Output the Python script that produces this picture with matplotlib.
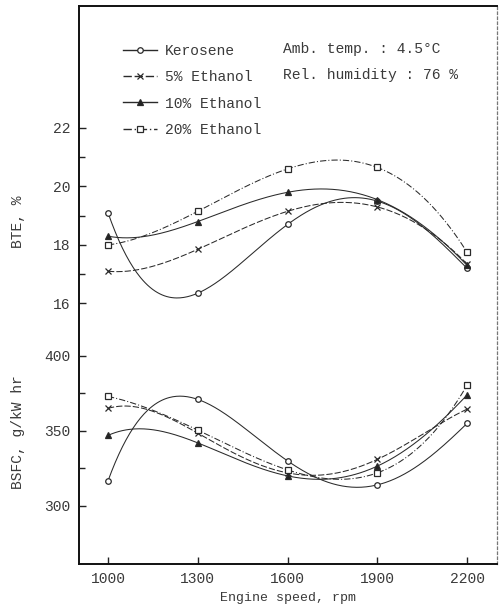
import numpy as np
import matplotlib.pyplot as plt
from matplotlib.lines import Line2D

plt.rcParams.update({
    'font.family': ['Liberation Mono', 'DejaVu Sans Mono'],
    'font.size': 10.5,
    'text.color': '#3a3a3a',
    'axes.labelcolor': '#3a3a3a',
    'xtick.color': '#222222',
    'ytick.color': '#222222',
    'xtick.labelcolor': '#3a3a3a',
    'ytick.labelcolor': '#3a3a3a',
})

speed = [1000, 1300, 1600, 1900, 2200]
fuels = ['Kerosene', '5% Ethanol', '10% Ethanol', '20% Ethanol']

# brake thermal efficiency, %
bte_kerosene = [19.1, 16.35, 18.7, 19.5, 17.2]
bte_e5 = [17.1, 17.85, 19.15, 19.3, 17.35]
bte_e10 = [18.3, 18.8, 19.8, 19.55, 17.3]
bte_e20 = [18.0, 19.15, 20.6, 20.65, 17.75]

# brake specific fuel consumption, g/kW hr
bsfc_kerosene = [316.7, 371.0, 330.0, 314.0, 355.0]
bsfc_e5 = [365.0, 348.5, 322.0, 331.0, 364.5]
bsfc_e10 = [347.0, 342.0, 320.0, 326.5, 374.0]
bsfc_e20 = [373.0, 350.5, 324.0, 322.0, 380.5]

bte = [bte_kerosene, bte_e5, bte_e10, bte_e20]
bsfc = [bsfc_kerosene, bsfc_e5, bsfc_e10, bsfc_e20]

markers = ['o', 'x', '^', 's']
mfc = ['white', 'none', '#222222', 'white']
styles = ['-', (0, (6, 2)), '-', (0, (6, 2, 1, 2))]
ink = '#2a2a2a'


def smooth(x, y):
    # smooth curve through the test points
    x = np.asarray(x, float)
    u = (x - 1600) / 600
    c = np.polyfit(u, y, 4)
    xs = np.linspace(x.min(), x.max(), 300)
    return xs, np.polyval(c, (xs - 1600) / 600)


fig = plt.figure(figsize=(5.0, 6.07), dpi=100)
rect = [0.158, 0.071, 0.836, 0.919]
ax = fig.add_axes(rect)
ax2 = fig.add_axes(rect)
ax2.patch.set_visible(False)

for i in range(4):
    xs, ys = smooth(speed, bte[i])
    ax.plot(xs, ys, color=ink, lw=0.75, ls=styles[i])
    ax.plot(speed, bte[i], ls='none', marker=markers[i], ms=4,
            mfc=mfc[i], mec=ink, mew=0.9, color=ink)
    xs, ys = smooth(speed, bsfc[i])
    ax2.plot(xs, ys, color=ink, lw=0.75, ls=styles[i])
    ax2.plot(speed, bsfc[i], ls='none', marker=markers[i], ms=4,
             mfc=mfc[i], mec=ink, mew=0.9, color=ink)

ax.set_xlim(903, 2300)
ax2.set_xlim(903, 2300)
ax.set_ylim(7.09, 26.17)
ax2.set_ylim(261.3, 633.3)

ax.set_xticks(speed)
ax.set_xticklabels([str(s) for s in speed])
ax.set_yticks([16, 18, 20, 22])
ax.set_yticks([17, 19, 21], minor=True)
ax.tick_params(axis='both', which='both', direction='in', width=1.0)
ax.tick_params(axis='both', which='major', length=5, pad=6)
ax.tick_params(axis='y', which='minor', length=4)

ax2.set_xticks([])
ax2.set_yticks([300, 350, 400])
ax2.set_yticks([325, 375], minor=True)
ax2.tick_params(axis='y', which='both', direction='in', width=1.0, pad=6)
ax2.tick_params(axis='y', which='major', length=5)
ax2.tick_params(axis='y', which='minor', length=4)
for s in ax2.spines.values():
    s.set_visible(False)

for side in ['left', 'bottom', 'top']:
    ax.spines[side].set_linewidth(1.4)
    ax.spines[side].set_color('#111111')
ax.spines['right'].set_linestyle((0, (2, 2)))
ax.spines['right'].set_color('#777777')
ax.spines['right'].set_linewidth(0.9)

ax.set_xlabel('Engine speed, rpm', fontsize=9.5, labelpad=4)
fig.text(0.036, 1 - 222 / 607, 'BTE, %', rotation=90,
         ha='center', va='center', fontsize=10.5)
fig.text(0.036, 1 - 432 / 607, 'BSFC, g/kW hr', rotation=90,
         ha='center', va='center', fontsize=10.5)

handles = [Line2D([0], [0], color=ink, lw=1.0, ls=styles[i],
                  marker=markers[i], ms=4, mfc=mfc[i], mec=ink, mew=0.9)
           for i in range(4)]
fig.legend(handles, fuels, loc='upper left', bbox_to_anchor=(0.232, 0.94),
           frameon=False, fontsize=10.5, handlelength=2.3,
           handletextpad=0.55, labelspacing=0.85, borderpad=0)

fig.text(283 / 500, 1 - 49 / 607, 'Amb. temp. : 4.5°C', va='center',
         fontsize=10.5)
fig.text(283 / 500, 1 - 75 / 607, 'Rel. humidity : 76 %', va='center',
         fontsize=10.5)

fig.savefig('out.png', dpi=100)
